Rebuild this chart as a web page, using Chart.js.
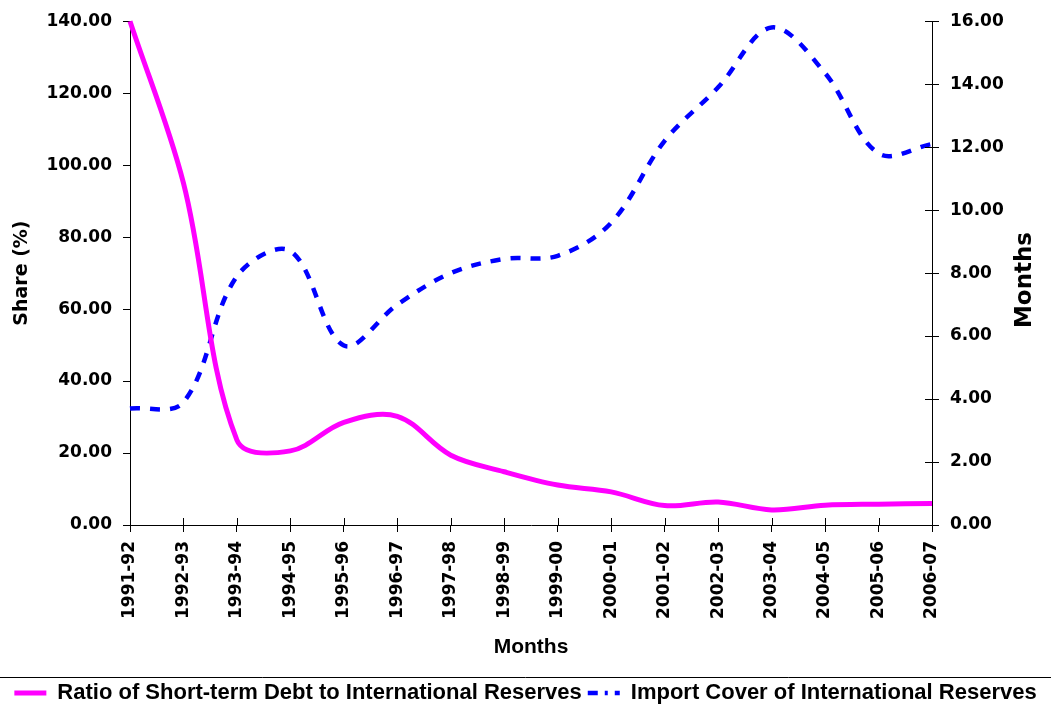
<!DOCTYPE html>
<html>
<head>
<meta charset="utf-8">
<script src="https://cdn.jsdelivr.net/npm/chart.js@4.4.0/dist/chart.umd.min.js"></script>
<style>
  html, body { margin: 0; padding: 0; background: #fff; }
  #wrap { width: 1051px; height: 707px; }
</style>
</head>
<body>
<div id="wrap"><canvas id="debtChart" width="1051" height="707"></canvas></div>
<script>
const years = ['1991-92', '1992-93', '1993-94', '1994-95', '1995-96', '1996-97', '1997-98', '1998-99',
  '1999-00', '2000-01', '2001-02', '2002-03', '2003-04', '2004-05', '2005-06', '2006-07'];
const shortTermDebtRatio = [140, 95, 23.6, 20.6, 28.5, 30.2, 19.4, 14.8, 11.1, 9.2, 5.4, 6.4, 4.2, 5.5, 5.8, 6.0];
const importCover = [3.7, 3.9, 7.9, 8.7, 5.7, 7.0, 8.0, 8.45, 8.55, 9.6, 12.2, 13.9, 15.8, 14.35, 11.8, 12.1];

const tickFont = { family: '"DejaVu Sans", sans-serif', size: 17, weight: 'bold' };

// bits Excel draws that Chart.js doesn't: rule above legend, ticks crossing the axis, right title read bottom-up
const extras = {
  id: 'extras',
  afterDraw(chart) {
    const ctx = chart.ctx;
    const area = chart.chartArea;
    ctx.save();
    ctx.strokeStyle = '#000';
    ctx.lineWidth = 1;
    ctx.beginPath();
    ctx.moveTo(0, 677.5);
    ctx.lineTo(chart.width, 677.5);
    const x = chart.scales.x;
    x.ticks.forEach((_, i) => {
      const px = Math.round(x.getPixelForTick(i)) + 0.5;
      ctx.moveTo(px, area.bottom);
      ctx.lineTo(px, area.bottom - 7);
    });
    const y2 = chart.scales.y2;
    y2.ticks.forEach((_, i) => {
      const py = Math.round(y2.getPixelForTick(i)) + 0.5;
      ctx.moveTo(area.right, py);
      ctx.lineTo(area.right - 7, py);
    });
    ctx.stroke();

    ctx.translate(1025, 280);
    ctx.rotate(-Math.PI / 2);
    ctx.fillStyle = '#000';
    ctx.font = 'bold 23px "DejaVu Sans", sans-serif';
    ctx.textAlign = 'center';
    ctx.textBaseline = 'middle';
    ctx.fillText('Months', 0, 0);
    ctx.restore();
  }
};

Chart.defaults.color = '#000';
const legendDashes = [[], [10, 7, 3, 7]];

new Chart(document.getElementById('debtChart'), {
  type: 'line',
  data: {
    labels: years,
    datasets: [{
      label: 'Ratio of Short-term Debt to International Reserves',
      data: shortTermDebtRatio,
      yAxisID: 'y',
      borderColor: '#FF00FF',
      backgroundColor: '#FF00FF',
      borderWidth: 5,
      pointRadius: 0,
      tension: 0.35,
      fill: false,
      clip: false
    }, {
      label: 'Import Cover of International Reserves',
      data: importCover,
      yAxisID: 'y2',
      borderColor: '#0000FF',
      backgroundColor: '#0000FF',
      borderWidth: 4.5,
      borderDash: [10, 10],
      pointRadius: 0,
      tension: 0.35,
      fill: false,
      clip: false
    }]
  },
  options: {
    responsive: false,
    animation: false,
    layout: { padding: { top: 20, bottom: -7, left: 0, right: 0 } },
    plugins: {
      tooltip: { enabled: false },
      legend: {
        position: 'bottom',
        labels: {
          usePointStyle: true,
          pointStyle: 'line',
          pointStyleWidth: 32,
          padding: 6,
          color: '#000',
          font: { family: '"Liberation Sans", Arial, sans-serif', size: 22, weight: 'bold' },
          generateLabels: chart => Chart.defaults.plugins.legend.labels.generateLabels(chart).map((item, i) => {
            item.lineDash = legendDashes[i];
            item.lineWidth = i === 0 ? 5 : 4.5;
            return item;
          })
        }
      }
    },
    scales: {
      x: {
        grid: { drawOnChartArea: false, color: '#000', tickLength: 7 },
        border: { color: '#000' },
        ticks: { font: tickFont, minRotation: 90, maxRotation: 90, padding: 9, autoSkip: false },
        title: {
          display: true,
          text: 'Months',
          font: { family: '"Liberation Sans", Arial, sans-serif', size: 21, weight: 'bold' },
          padding: { top: 0, bottom: 16 }
        },
        afterFit: scale => { scale.height = 151; }
      },
      y: {
        position: 'left',
        min: 0,
        max: 140,
        grid: { drawOnChartArea: false, color: '#000', tickLength: 7 },
        border: { color: '#000' },
        ticks: { stepSize: 20, font: tickFont, padding: 11, callback: v => v.toFixed(2) },
        title: {
          display: true,
          text: 'Share (%)',
          font: { family: '"DejaVu Sans", sans-serif', size: 19, weight: 'bold' },
          padding: { top: 11, bottom: 0 }
        },
        afterFit: scale => { scale.width = 130; }
      },
      y2: {
        position: 'right',
        min: 0,
        max: 16,
        grid: { drawOnChartArea: false, color: '#000', tickLength: 7 },
        border: { color: '#000' },
        ticks: { stepSize: 2, font: tickFont, padding: 11, callback: v => v.toFixed(2) },
        afterFit: scale => { scale.width = 119; }
      }
    }
  },
  plugins: [extras]
});
</script>
</body>
</html>
